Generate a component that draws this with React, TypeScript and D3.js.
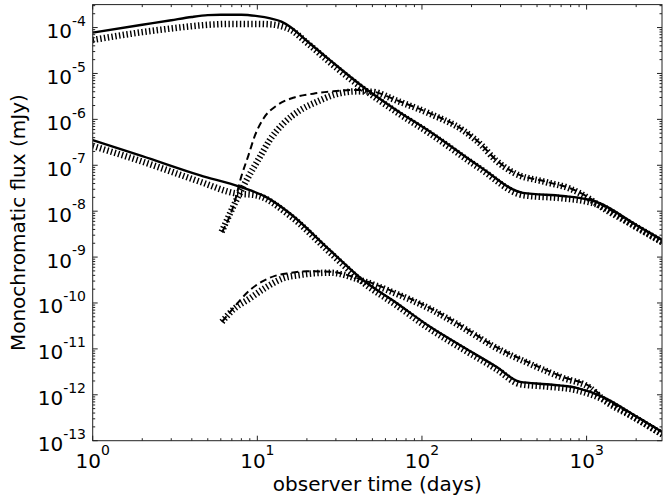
import React from 'react';
import * as d3 from 'd3';

// ---- data (time in days, log10 flux in mJy) ----
const upperSolidT = [1, 2, 3, 4, 5, 6, 8, 10, 12, 14, 15.8, 20, 27.6, 43.8, 70, 112, 225, 410, 717, 1000, 1150, 2000, 2880];
const upperSolidF = [-4.11, -3.94, -3.84, -3.77, -3.73, -3.72, -3.72, -3.75, -3.8, -3.87, -3.98, -4.29, -4.71, -5.29, -5.8, -6.27, -7.03, -7.6, -7.67, -7.74, -7.8, -8.3, -8.63];

const upperDotT = [1, 2, 3, 4, 5, 7, 10, 12, 14, 16, 20, 27.6, 43.8, 70, 112, 225, 410, 717, 1000, 1150, 2000, 2880];
const upperDotF = [-4.27, -4.1, -4.02, -3.97, -3.94, -3.92, -3.92, -3.93, -3.97, -4.05, -4.33, -4.76, -5.33, -5.84, -6.31, -7.07, -7.65, -7.72, -7.79, -7.85, -8.35, -8.68];

const upperDashT = [6.1, 7.2, 8.0, 8.8, 9.7, 10.9, 13.1, 16.5, 21.9, 28.9, 40, 50, 70, 112, 178, 225, 283, 355, 571, 795, 1100, 1150, 2000, 2880];
const upperDashF = [-8.46, -7.86, -7.24, -6.8, -6.34, -5.98, -5.7, -5.53, -5.44, -5.39, -5.36, -5.39, -5.58, -5.87, -6.23, -6.52, -6.89, -7.14, -7.36, -7.5, -7.76, -7.8, -8.3, -8.63];

const upperCompDotT = [6.07, 7.14, 8.61, 10.4, 11.9, 14.4, 18.2, 22.9, 28.9, 40, 50, 70, 112, 178, 225, 283, 355, 571, 795, 1100, 1150, 2000, 2880];
const upperCompDotF = [-8.45, -7.9, -7.32, -6.81, -6.45, -6.09, -5.8, -5.62, -5.47, -5.39, -5.4, -5.59, -5.88, -6.24, -6.53, -6.9, -7.15, -7.37, -7.51, -7.79, -7.84, -8.34, -8.67];

const lowerSolidT = [1, 2, 4.5, 7.85, 11.4, 15.8, 27.6, 43.8, 70, 112, 178, 283, 395, 571, 870, 1260, 2000, 2880];
const lowerSolidF = [-6.45, -6.8, -7.22, -7.47, -7.7, -8.05, -8.85, -9.5, -10.0, -10.52, -10.96, -11.39, -11.72, -11.77, -11.85, -12.05, -12.47, -12.81];

const lowerDotT = [1, 2, 4.5, 7.1, 10, 15.8, 27.6, 43.8, 70, 112, 178, 283, 395, 571, 870, 1260, 2000, 2880];
const lowerDotF = [-6.58, -6.92, -7.36, -7.6, -7.66, -8.1, -8.9, -9.55, -10.05, -10.57, -11.01, -11.44, -11.77, -11.82, -11.9, -12.1, -12.52, -12.86];

const lowerDashT = [6.1, 7.0, 9.0, 10.6, 12.8, 15.4, 20, 27.6, 43.8, 70, 112, 178, 283, 455, 717, 1060, 1260, 2000, 2880];
const lowerDashF = [-10.41, -10.15, -9.72, -9.54, -9.41, -9.35, -9.31, -9.32, -9.5, -9.78, -10.11, -10.52, -10.96, -11.31, -11.61, -11.83, -12.05, -12.47, -12.81];

const lowerCompDotT = [6.1, 7.1, 9.0, 11.4, 14.4, 18.1, 22.9, 27.6, 43.8, 70, 112, 178, 283, 455, 717, 1060, 1260, 2000, 2880];
const lowerCompDotF = [-10.41, -10.15, -9.9, -9.65, -9.46, -9.39, -9.35, -9.34, -9.52, -9.8, -10.13, -10.54, -10.98, -11.33, -11.63, -11.86, -12.1, -12.52, -12.86];

const xMajorTicks = [1, 10, 100, 1000];
const xTickExponents = ['0', '1', '2', '3'];
const yMajorExps = [-13, -12, -11, -10, -9, -8, -7, -6, -5, -4];

const W = 663, H = 497;
const L = 92.7, R = 662, T = 4.6, B = 440.7;

const FS = 20, SFS = 14;
// DejaVu Sans advance widths (em)
const charW = (c: string) => (c === '-' ? 0.361 : 0.636);
const strW = (s: string, fs: number) => s.split('').reduce((a, c) => a + charW(c) * fs, 0);

export default function App() {
  const x = d3.scaleLog().domain([1, Math.pow(10, 3.458)]).range([L, R]);
  const y = d3.scaleLog().domain([1e-13, Math.pow(10, -3.5)]).range([B, T]);

  const mk = (ts: number[], fs: number[]) =>
    d3.line<number>()
      .x((_, i) => x(ts[i]))
      .y((_, i) => y(Math.pow(10, fs[i])))
      .curve(d3.curveMonotoneX)(fs) || '';

  const xMinor: number[] = [];
  for (let d = 1; d <= 1000; d *= 10) for (let k = 2; k <= 9; k++) if (d * k <= x.domain()[1]) xMinor.push(d * k);
  const yMinor: number[] = [];
  for (let e = -13; e < -3; e++) for (let k = 2; k <= 9; k++) { const v = k * Math.pow(10, e); if (v <= y.domain()[1]) yMinor.push(v); }

  const font = "'DejaVu Sans', sans-serif";
  const tickColor = '#222';
  const solid = { fill: 'none', stroke: '#000', strokeWidth: 2.4 };
  const dotted = { fill: 'none', stroke: '#000', strokeWidth: 6.5, strokeDasharray: '1.4 2.4' };
  const dashed = { fill: 'none', stroke: '#000', strokeWidth: 2, strokeDasharray: '7 4' };

  return (
    <svg width={W} height={H} style={{ position: 'absolute', left: 0, top: 0, background: '#fff' }}>
      <defs>
        <clipPath id="plot"><rect x={L} y={T} width={R - L} height={B - T} /></clipPath>
      </defs>
      <g clipPath="url(#plot)">
        <path d={mk(upperDotT, upperDotF)} {...dotted} />
        <path d={mk(upperCompDotT, upperCompDotF)} {...dotted} />
        <path d={mk(upperSolidT, upperSolidF)} {...solid} />
        <path d={mk(upperDashT, upperDashF)} {...dashed} />
        <path d={mk(lowerDotT, lowerDotF)} {...dotted} />
        <path d={mk(lowerCompDotT, lowerCompDotF)} {...dotted} />
        <path d={mk(lowerSolidT, lowerSolidF)} {...solid} />
        <path d={mk(lowerDashT, lowerDashF)} {...dashed} />
      </g>
      {/* spines */}
      <rect x={L} y={T} width={R - L} height={B - T} fill="none" stroke={tickColor} strokeWidth={1} />
      {/* x ticks */}
      {xMajorTicks.map(v => (
        <g key={'xm' + v}>
          <line x1={x(v)} x2={x(v)} y1={B} y2={B - 5} stroke={tickColor} />
          <line x1={x(v)} x2={x(v)} y1={T} y2={T + 5} stroke={tickColor} />
        </g>
      ))}
      {xMinor.map(v => (
        <g key={'xn' + v}>
          <line x1={x(v)} x2={x(v)} y1={B} y2={B - 2.5} stroke={tickColor} />
          <line x1={x(v)} x2={x(v)} y1={T} y2={T + 2.5} stroke={tickColor} />
        </g>
      ))}
      {yMajorExps.map(e => (
        <g key={'ym' + e}>
          <line x1={L} x2={L + 5} y1={y(Math.pow(10, e))} y2={y(Math.pow(10, e))} stroke={tickColor} />
          <line x1={R} x2={R - 5} y1={y(Math.pow(10, e))} y2={y(Math.pow(10, e))} stroke={tickColor} />
        </g>
      ))}
      {yMinor.map(v => (
        <g key={'yn' + v}>
          <line x1={L} x2={L + 2.5} y1={y(v)} y2={y(v)} stroke={tickColor} />
          <line x1={R} x2={R - 2.5} y1={y(v)} y2={y(v)} stroke={tickColor} />
        </g>
      ))}
      {/* tick labels */}
      {xMajorTicks.map((v, i) => {
        const w = strW('10', FS) + strW(xTickExponents[i], SFS);
        return (
          <text key={'xl' + v} x={x(v) - w / 2} y={467.5} textAnchor="start" fontFamily={font} fontSize={FS} fill="#000">
            10<tspan dy={-12.3} fontSize={SFS}>{xTickExponents[i]}</tspan>
          </text>
        );
      })}
      {yMajorExps.map(e => {
        const sup = String(e);
        const w = strW('10', FS) + strW(sup, SFS);
        return (
          <text key={'yl' + e} x={86 - w} y={y(Math.pow(10, e)) + 10.5} textAnchor="start" fontFamily={font} fontSize={FS} fill="#000">
            10<tspan dy={-12.3} fontSize={SFS}>{sup}</tspan>
          </text>
        );
      })}
      <text x={(L + R) / 2} y={491} textAnchor="middle" fontFamily={font} fontSize={FS} fill="#000">observer time (days)</text>
      <text transform={`translate(25,${(T + B) / 2}) rotate(-90)`} textAnchor="middle" fontFamily={font} fontSize={FS} fill="#000">Monochromatic flux (mJy)</text>
    </svg>
  );
}
